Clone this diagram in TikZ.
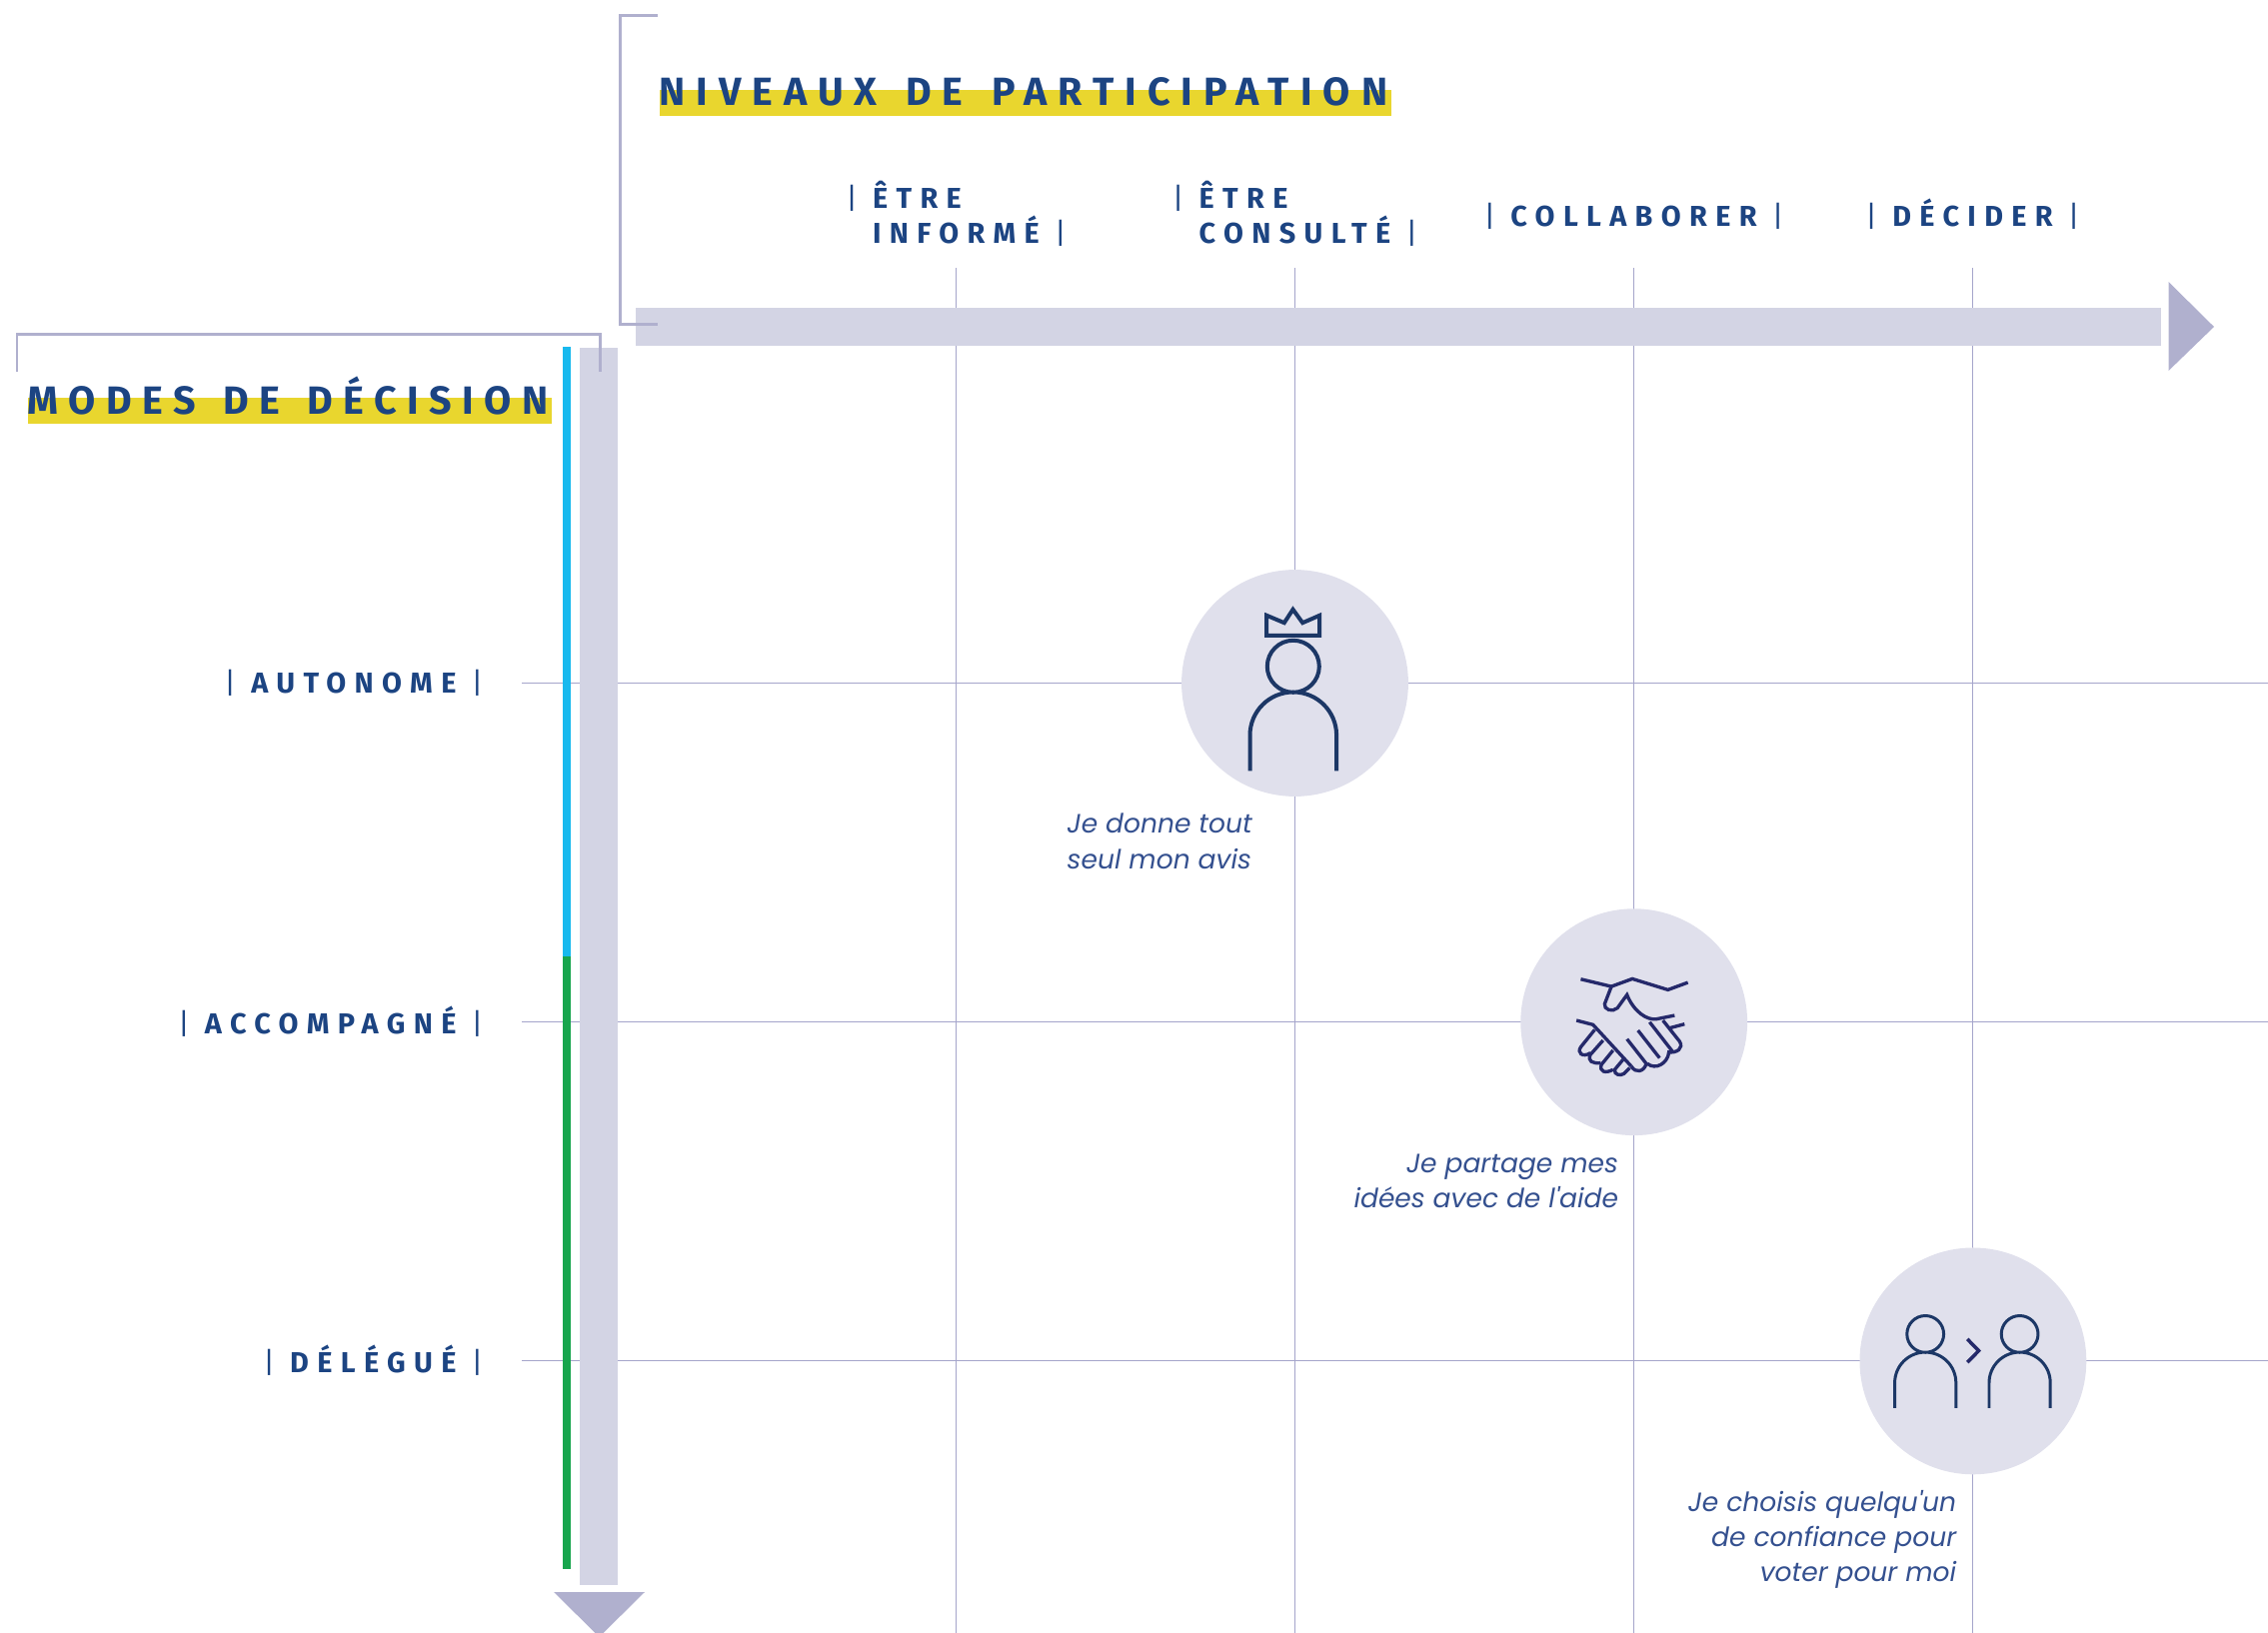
\documentclass[tikz,border=0pt]{standalone}
\usepackage{fontspec}
\setmainfont{Poppins}
\newfontfamily\titlefont[LetterSpace=28,WordSpace=1.4]{Fira Sans}
\newfontfamily\modesfont[LetterSpace=26.5,WordSpace=1.4]{Fira Sans}
\newfontfamily\levelfont[LetterSpace=29]{Fira Sans}
\usetikzlibrary{positioning}
\definecolor{inkblue}{HTML}{1C4482}
\definecolor{quoteblue}{HTML}{34508F}
\definecolor{iconblue}{HTML}{1C3766}
\definecolor{handblue}{HTML}{25296A}
\definecolor{barfill}{HTML}{D3D4E4}
\definecolor{tipfill}{HTML}{B0B0CE}
\definecolor{gridline}{HTML}{A5A5CB}
\definecolor{discfill}{HTML}{E0E0EC}
\definecolor{bandyellow}{HTML}{E9D62E}
\definecolor{barcyan}{HTML}{18B9EE}
\definecolor{bargreen}{HTML}{18A54D}
\newcommand{\pipe}{{\mdseries|}}
\newcommand{\PersonIcon}[2]{%
  \draw[shift={(#1)},scale=#2] (0,0) circle [radius=26]
    (-43.3,104.7) -- (-43.3,69) to[out=90,in=180] (0,25.7) to[out=0,in=90] (43.3,69) -- (43.3,104.7);}

\begin{document}
\begin{tikzpicture}[x=0.01cm,y=-0.01cm,
  grid line/.style={gridline,line width=0.45pt},
  bracket line/.style={tipfill,line width=0.85pt},
  disc node/.style={circle,fill=discfill,minimum size=2.267cm,inner sep=0},
  title node/.style={anchor=base west,inner sep=0,text=inkblue,font=\titlefont\bfseries\fontsize{11.2}{13}\selectfont},
  modes node/.style={title node,font=\modesfont\bfseries\fontsize{11.2}{13}\selectfont},
  level node/.style={inner sep=0,align=left,text=inkblue,font=\levelfont\bfseries\fontsize{8.2}{9.96}\selectfont},
  quote node/.style={inner sep=0,text=quoteblue,font=\itshape\fontsize{7.55}{9.96}\selectfont}]
  \useasboundingbox (0,0) rectangle (2269,1634);
  % grid
  \coordinate (col1) at (956.5,268);
  \coordinate (col2) at (1295.5,268);
  \coordinate (col3) at (1634.5,268);
  \coordinate (col4) at (1973.5,268);
  \coordinate (col1 end) at (956.5,1634);
  \coordinate (col2 end) at (1295.5,1634);
  \coordinate (col3 end) at (1634.5,1634);
  \coordinate (col4 end) at (1973.5,1634);
  \coordinate (row1) at (522,683.5);
  \coordinate (row2) at (522,1022.5);
  \coordinate (row3) at (522,1361.5);
  \coordinate (row1 end) at (2269,683.5);
  \coordinate (row2 end) at (2269,1022.5);
  \coordinate (row3 end) at (2269,1361.5);
  \draw[grid line] (col1) -- (col1 end);
  \draw[grid line] (col2) -- (col2 end);
  \draw[grid line] (col3) -- (col3 end);
  \draw[grid line] (col4) -- (col4 end);
  \draw[grid line] (row1) -- (row1 end);
  \draw[grid line] (row2) -- (row2 end);
  \draw[grid line] (row3) -- (row3 end);
  % axes
  \fill[barfill] (636,308) rectangle (2162,346);
  \fill[tipfill] (2169.5,282) -- (2215,327) -- (2169.5,371) -- cycle;
  \fill[barfill] (580,348) rectangle (618,1586);
  \fill[tipfill] (554,1593) -- (645,1593) -- (599.5,1638) -- cycle;
  \fill[barcyan] (563,347) rectangle (571,957);
  \fill[bargreen] (563,957) rectangle (571,1570);
  % brackets
  \draw[bracket line] (658,16) -- (620,16) -- (620,325) -- (658,325);
  \draw[bracket line] (17,372) -- (17,335) -- (600,335) -- (600,372);
  % titles
  \fill[bandyellow] (660,90) rectangle (1392,116);
  \node[title node] (niveaux) at (659,106) {NIVEAUX DE PARTICIPATION};
  \fill[bandyellow] (28,398) rectangle (552,424);
  \node[modes node] (modes) at (27,415) {MODES DE DÉCISION};
  % levels
  \node[level node, above = 0.21cm of col1] (informe) {\pipe{} ÊTRE\\\phantom{\pipe{} }INFORMÉ \pipe};
  \node[level node, above = 0.21cm of col2] (consulte) {\pipe{} ÊTRE\\\phantom{\pipe{} }CONSULTÉ \pipe};
  \node[level node, above = 0.38cm of col3] (collaborer) {\pipe{} COLLABORER \pipe};
  \node[level node, above = 0.38cm of col4] (decider) {\pipe{} DÉCIDER \pipe};
  % modes
  \node[level node, left = 0.38cm of row1] (autonome) {\pipe{} AUTONOME \pipe};
  \node[level node, left = 0.38cm of row2] (accompagne) {\pipe{} ACCOMPAGNÉ \pipe};
  \node[level node, left = 0.38cm of row3] (delegue) {\pipe{} DÉLÉGUÉ \pipe};
  % discs
  \node[disc node] (crown) at (1295.5,683.5) {};
  \node[disc node, on grid, below right = 3.39cm and 3.39cm of crown] (hand) {};
  \node[disc node, on grid, below right = 3.39cm and 3.39cm of hand] (duo) {};
  % quotes
  \node[quote node, align=left, below left = 0.16cm and 0.42cm of crown.south] (quote1) {Je donne tout\\seul mon avis};
  \node[quote node, align=right, below left = 0.17cm and 0.15cm of hand.south] (quote2) {Je partage mes\\idées avec de l\textquotesingle aide};
  \node[quote node, align=right, below left = 0.15cm and 0.16cm of duo.south] (quote3) {Je choisis quelqu\textquotesingle un\\de confiance pour\\voter pour moi};
  % icons
  \begin{scope}[shift={(crown.center)},iconblue,line width=1.14pt]
    \PersonIcon{-1.7,-16.7}{1}
    \draw (-28.3,-47.7) -- (-28.3,-67.7) -- (-10.7,-60.3) -- (-2,-73.7) -- (7.7,-60.3) -- (24.7,-67.7) -- (24.7,-47.7) -- cycle;
  \end{scope}
  \begin{scope}[shift={(duo.center)},iconblue,line width=0.85pt]
    \PersonIcon{-47.7,-27}{0.707}
    \PersonIcon{46.7,-27}{0.707}
    \draw[handblue,line width=1pt] (-5.7,-22) -- (5.7,-10.3) -- (-5.7,1.3);
  \end{scope}
  \begin{scope}[shift={(hand.center)},x=0.00333cm,y=-0.00333cm,handblue,line width=0.95pt]
    \draw (-160,-129) -- (-68,-107) -- (-5,-130) -- (102,-97) -- (162,-119);
    \draw (-68,-107) -- (-88,-55) .. controls (-92,-38) and (-65,-28) .. (-50,-42) -- (-21,-82) .. controls (0,-30) and (40,-5) .. (67,-9) -- (122,-20);
    \draw (107,18) -- (152,6);
    \draw (87,-5) -- (137,58) .. controls (150,78) and (130,95) .. (100,90);
    \draw (47,0) -- (117,90);
    \draw (12,25) -- (77,108);
    \draw (105,92) .. controls (100,125) and (65,145) .. (40,125);
    \draw (-21,51) -- (37,125) .. controls (30,150) and (5,155) .. (-8,133);
    \draw (-173,-5) -- (-123,8) -- (-8,133);
    \draw (-118,23) -- (-160,75) .. controls (-172,92) and (-155,108) .. (-131,93);
    \draw (-93,55) -- (-131,98) .. controls (-140,118) and (-125,125) .. (-100,123);
    \draw (-63,85) -- (-98,128) .. controls (-105,150) and (-85,155) .. (-63,143);
    \draw (-33,113) -- (-58,143) .. controls (-60,160) and (-40,162) .. (-30,155) -- (-13,138);
  \end{scope}
\end{tikzpicture}
\end{document}
